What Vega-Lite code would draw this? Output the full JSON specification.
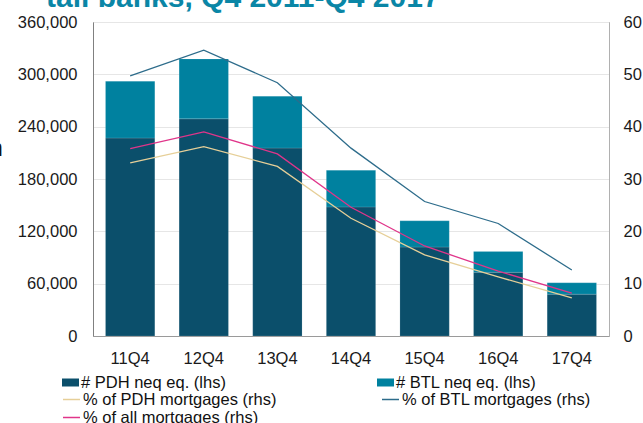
{
  "$schema": "https://vega.github.io/schema/vega-lite/v6.json",
  "width": 516,
  "height": 314,
  "autosize": {"type": "none"},
  "padding": {"left": 93, "top": 22, "right": 34, "bottom": 87},
  "background": "white",
  "title": {
    "text": "tail banks, Q4 2011-Q4 2017",
    "anchor": "start",
    "frame": "group",
    "orient": "top",
    "fontSize": 30,
    "fontWeight": "bold",
    "font": "Liberation Sans",
    "color": "#0a86a6",
    "baseline": "alphabetic",
    "offset": 0,
    "dx": -47,
    "dy": 23
  },
  "config": {
    "font": "Liberation Sans",
    "view": {"stroke": "#a0a0a0", "strokeWidth": 1},
    "axis": {"labelFont": "Liberation Sans", "labelFontSize": 16.5, "labelColor": "#1a1a1a", "ticks": false, "gridColor": "#e6e6e6", "gridWidth": 1},
    "legend": {"labelFont": "Liberation Sans", "labelFontSize": 16.5, "labelColor": "#111", "labelLimit": 400, "labelOffset": 2, "rowPadding": 0, "padding": 0}
  },
  "datasets": {
    "bars": [
      {"quarter": "11Q4", "series": "# PDH neq eq. (lhs)", "count": 227000},
      {"quarter": "11Q4", "series": "# BTL neq eq. (lhs)", "count": 65000},
      {"quarter": "12Q4", "series": "# PDH neq eq. (lhs)", "count": 249000},
      {"quarter": "12Q4", "series": "# BTL neq eq. (lhs)", "count": 68500},
      {"quarter": "13Q4", "series": "# PDH neq eq. (lhs)", "count": 215500},
      {"quarter": "13Q4", "series": "# BTL neq eq. (lhs)", "count": 59500},
      {"quarter": "14Q4", "series": "# PDH neq eq. (lhs)", "count": 148000},
      {"quarter": "14Q4", "series": "# BTL neq eq. (lhs)", "count": 42000},
      {"quarter": "15Q4", "series": "# PDH neq eq. (lhs)", "count": 102000},
      {"quarter": "15Q4", "series": "# BTL neq eq. (lhs)", "count": 30000},
      {"quarter": "16Q4", "series": "# PDH neq eq. (lhs)", "count": 73000},
      {"quarter": "16Q4", "series": "# BTL neq eq. (lhs)", "count": 24000},
      {"quarter": "17Q4", "series": "# PDH neq eq. (lhs)", "count": 48000},
      {"quarter": "17Q4", "series": "# BTL neq eq. (lhs)", "count": 13000}
    ],
    "lines": [
      {"quarter": "11Q4", "series": "% of PDH mortgages (rhs)", "pct": 33.1},
      {"quarter": "12Q4", "series": "% of PDH mortgages (rhs)", "pct": 36.2},
      {"quarter": "13Q4", "series": "% of PDH mortgages (rhs)", "pct": 32.4},
      {"quarter": "14Q4", "series": "% of PDH mortgages (rhs)", "pct": 22.5},
      {"quarter": "15Q4", "series": "% of PDH mortgages (rhs)", "pct": 15.5},
      {"quarter": "16Q4", "series": "% of PDH mortgages (rhs)", "pct": 11.3},
      {"quarter": "17Q4", "series": "% of PDH mortgages (rhs)", "pct": 7.3},
      {"quarter": "11Q4", "series": "% of BTL mortgages (rhs)", "pct": 49.7},
      {"quarter": "12Q4", "series": "% of BTL mortgages (rhs)", "pct": 54.6},
      {"quarter": "13Q4", "series": "% of BTL mortgages (rhs)", "pct": 48.4},
      {"quarter": "14Q4", "series": "% of BTL mortgages (rhs)", "pct": 35.9},
      {"quarter": "15Q4", "series": "% of BTL mortgages (rhs)", "pct": 25.7},
      {"quarter": "16Q4", "series": "% of BTL mortgages (rhs)", "pct": 21.5},
      {"quarter": "17Q4", "series": "% of BTL mortgages (rhs)", "pct": 12.6},
      {"quarter": "11Q4", "series": "% of all mortgages (rhs)", "pct": 35.8},
      {"quarter": "12Q4", "series": "% of all mortgages (rhs)", "pct": 39.0},
      {"quarter": "13Q4", "series": "% of all mortgages (rhs)", "pct": 34.8},
      {"quarter": "14Q4", "series": "% of all mortgages (rhs)", "pct": 24.6},
      {"quarter": "15Q4", "series": "% of all mortgages (rhs)", "pct": 17.2},
      {"quarter": "16Q4", "series": "% of all mortgages (rhs)", "pct": 12.4},
      {"quarter": "17Q4", "series": "% of all mortgages (rhs)", "pct": 8.2}
    ]
  },
  "layer": [
    {
      "data": {"name": "bars"},
      "mark": {"type": "bar", "stroke": "#ffffff", "strokeOpacity": 0.25, "strokeWidth": 0.5},
      "encoding": {
        "x": {
          "field": "quarter", "type": "nominal", "title": null,
          "scale": {"paddingInner": 0.33, "paddingOuter": 0.17},
          "axis": {"labelAngle": 0, "labelPadding": 14, "domainColor": "#9a9a9a"}
        },
        "y": {
          "field": "count", "type": "quantitative", "stack": "zero",
          "scale": {"domain": [0, 360000]},
          "axis": {"values": [0, 60000, 120000, 180000, 240000, 300000, 360000], "format": ",.0f", "title": "n", "titleAngle": 0, "titleAlign": "left", "titleBaseline": "alphabetic", "titleX": -104, "titleY": 133, "titleFontSize": 24, "titleFontWeight": "normal", "titleColor": "#111", "labelPadding": 16, "domainColor": "#808080", "grid": true}
        },
        "fill": {
          "field": "series", "type": "nominal",
          "sort": ["# PDH neq eq. (lhs)", "# BTL neq eq. (lhs)"],
          "scale": {
            "domain": ["# PDH neq eq. (lhs)", "# BTL neq eq. (lhs)"],
            "range": ["#0b4f6b", "#00819f"]
          },
          "legend": {
            "title": null,
            "orient": "none",
            "legendX": -31,
            "legendY": 352,
            "direction": "horizontal",
            "columns": 2,
            "columnPadding": 151,
            "symbolType": "M-1,-0.47H1V0.47H-1Z",
            "symbolSize": 289,
            "symbolStrokeWidth": 0
          }
        },
        "order": {"field": "series", "sort": "descending"}
      }
    },
    {
      "data": {"name": "lines"},
      "mark": {"type": "line", "strokeWidth": 1.3},
      "encoding": {
        "x": {"field": "quarter", "type": "nominal"},
        "y": {
          "field": "pct", "type": "quantitative",
          "scale": {"domain": [0, 60]},
          "axis": {"orient": "right", "values": [0, 10, 20, 30, 40, 50, 60], "title": null, "grid": false, "labelPadding": 14, "domainColor": "#b0b0b0"}
        },
        "stroke": {
          "field": "series", "type": "nominal",
          "sort": ["% of PDH mortgages (rhs)", "% of BTL mortgages (rhs)", "% of all mortgages (rhs)"],
          "scale": {
            "domain": ["% of PDH mortgages (rhs)", "% of BTL mortgages (rhs)", "% of all mortgages (rhs)"],
            "range": ["#e6cf98", "#2d6c8b", "#e0358a"]
          },
          "legend": {
            "title": null,
            "orient": "none",
            "legendX": -31,
            "legendY": 368,
            "direction": "horizontal",
            "columns": 2,
            "columnPadding": 102,
            "symbolType": "stroke",
            "symbolSize": 289,
            "symbolStrokeWidth": 1.5
          }
        }
      }
    }
  ],
  "resolve": {"scale": {"y": "independent"}}
}
